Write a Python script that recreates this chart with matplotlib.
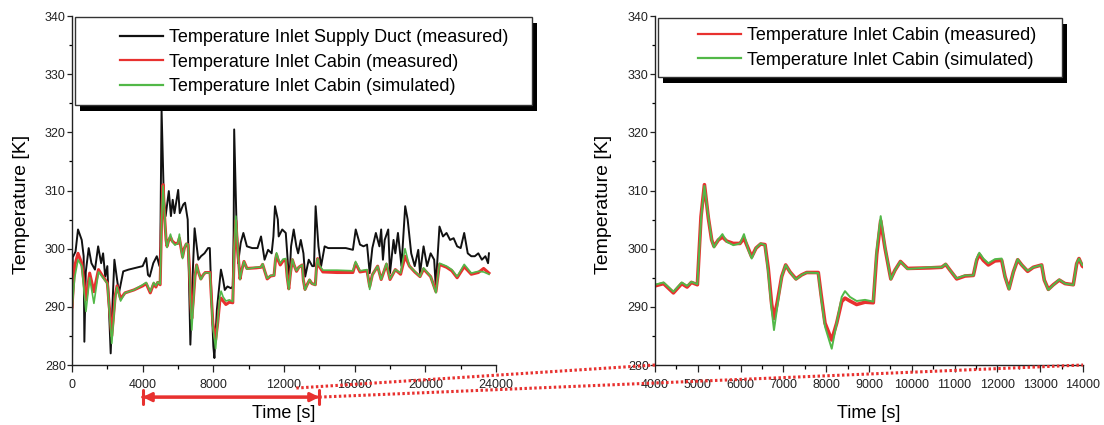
import matplotlib
matplotlib.use("Agg")
import matplotlib.pyplot as plt
from matplotlib.patches import Rectangle, ConnectionPatch
from matplotlib.lines import Line2D
from matplotlib.ticker import MultipleLocator

plt.rcParams['font.family'] = ['Liberation Sans', 'DejaVu Sans']

# ---------------- data ----------------
t_duct = [0, 40, 200, 340, 550, 660, 700, 780, 945, 1100, 1300, 1480, 1650, 1760, 1880, 2000,
          2100, 2190, 2300, 2400, 2550, 2660, 2900, 3200, 3600, 4000, 4200, 4300, 4400, 4600,
          4800, 4950, 5000, 5070, 5200, 5300, 5480, 5600, 5700, 5800, 6010, 6100, 6300, 6400,
          6550, 6650, 6700, 6850, 6940, 7150, 7300, 7500, 7700, 7800, 7900, 8000, 8060, 8200,
          8430, 8550, 8650, 8800, 9000, 9100, 9150, 9180, 9300, 9400, 9550, 9700, 9900, 10200,
          10500, 10700, 10900, 11100, 11300, 11400, 11490, 11650, 11700, 11900, 12100, 12300,
          12400, 12550, 12700, 12800, 12950, 13100, 13200, 13400, 13600, 13700, 13790, 13950,
          14100, 14300, 14500, 15000, 15500, 15900, 16060, 16300, 16500, 16700, 16850, 17000,
          17200, 17400, 17500, 17600, 17700, 17900, 18000, 18200, 18300, 18450, 18650, 18860,
          19000, 19200, 19400, 19600, 19700, 19900, 20100, 20300, 20500, 20590, 20800, 21000,
          21200, 21400, 21600, 21800, 22000, 22200, 22400, 22600, 22800, 23000, 23200, 23400,
          23550, 23600]
T_duct = [280.5, 298.5, 299.5, 303.3, 301.5, 298.7, 284.0, 296.0, 300.1, 297.5, 296.4, 300.4,
          297.5, 299.2, 295.2, 297.0, 289.0, 282.0, 291.0, 298.1, 294.7, 292.4, 296.1, 296.4,
          296.7, 297.0, 298.4, 295.5, 295.2, 297.5, 298.7, 297.0, 300.4, 323.9, 308.4, 305.6,
          309.9, 305.6, 308.4, 306.1, 310.1, 306.1, 307.6, 307.9, 305.0, 291.2, 283.5, 297.0,
          303.5, 298.1, 298.7, 299.2, 300.1, 300.1, 291.2, 283.2, 281.2, 289.5, 296.4, 294.7,
          292.9, 293.5, 293.2, 293.5, 302.7, 320.5, 305.6, 297.5, 301.0, 302.7, 300.4, 300.1,
          300.1, 302.1, 298.1, 299.8, 299.2, 302.1, 307.3, 305.0, 302.1, 303.3, 302.7, 294.1,
          300.4, 303.3, 300.4, 299.2, 301.5, 299.2, 295.2, 298.1, 297.0, 297.0, 307.3, 300.4,
          297.0, 300.4, 300.1, 300.1, 300.1, 299.8, 303.3, 300.7, 300.4, 300.7, 295.8, 300.1,
          302.7, 300.4, 303.3, 298.1, 301.5, 303.3, 295.8, 301.5, 299.2, 302.7, 297.0, 307.3,
          305.0, 299.2, 297.0, 299.8, 295.8, 300.4, 297.0, 299.2, 298.1, 293.5, 303.8, 302.1,
          302.7, 301.5, 301.8, 300.4, 300.1, 302.7, 299.2, 298.7, 298.7, 299.2, 298.1, 298.7,
          297.5, 299.2]

t_cabin = [0, 150, 340, 550, 790, 1000, 1240, 1500, 1750, 2000, 2250, 2450, 2550, 2750, 3000,
           3500, 4000, 4200, 4430, 4625, 4750, 4850, 4990, 5075, 5155, 5246, 5324, 5379, 5480,
           5575, 5675, 5830, 5986, 6079, 6180, 6259, 6360, 6469, 6570, 6647, 6725, 6780, 6857,
           6960, 7053, 7154, 7294, 7428, 7544, 7815, 7879, 7972, 8129, 8245, 8362, 8439, 8555,
           8711, 8907, 9100, 9180, 9273, 9374, 9510, 9607, 9735, 9900, 10425, 10698, 10791,
           10893, 11049, 11243, 11438, 11516, 11577, 11671, 11788, 11944, 12100, 12178, 12271,
           12373, 12474, 12568, 12707, 12839, 13034, 13096, 13190, 13306, 13446, 13579, 13773,
           13852, 13906, 13984, 14200, 15000, 15900, 16050, 16300, 16700, 16850, 17000, 17300,
           17500, 17800, 18000, 18300, 18600, 18850, 19100, 19400, 19700, 19900, 20300, 20600,
           20800, 21200, 21500, 21800, 22200, 22600, 23000, 23300, 23600]
T_cabin_meas = [290.0, 297.0, 299.2, 297.5, 291.2, 295.8, 292.6, 296.4, 295.2, 294.1, 285.0,
                292.0, 293.6, 291.4, 292.4, 292.9, 293.6, 294.0, 292.4, 294.0, 293.4, 294.2,
                293.8, 305.5, 311.0, 305.3, 301.5, 300.4, 301.5, 302.0, 301.3, 300.9, 300.9,
                301.8, 300.0, 298.6, 300.1, 300.8, 300.7, 296.5, 290.5, 288.0, 290.8, 295.2,
                297.2, 296.0, 294.8, 295.5, 295.9, 295.9, 292.2, 287.2, 284.3, 287.2, 290.9,
                291.5, 291.0, 290.4, 290.8, 290.7, 299.0, 304.8, 300.1, 294.8, 296.3, 297.8,
                296.6, 296.7, 296.8, 297.3, 296.3, 294.8, 295.3, 295.4, 298.0, 299.0, 298.0,
                297.2, 297.9, 298.0, 295.2, 293.1, 296.0, 298.1, 297.2, 296.1, 296.8, 297.2,
                294.6, 293.0, 293.8, 294.6, 294.0, 293.8, 297.4, 298.3, 297.0,
                296.0, 295.9, 295.9, 297.5, 296.0, 296.2, 293.5, 295.5, 297.0, 294.7, 297.3,
                294.7, 296.4, 295.6, 298.7, 297.0, 296.0, 295.2, 296.5, 295.2, 292.6, 297.3,
                296.8, 296.2, 295.0, 296.9, 295.6, 295.9, 296.6, 295.8]
T_cabin_sim = [289.5, 295.0, 298.1, 297.0, 289.2, 295.0, 290.6, 296.0, 295.0, 294.0, 283.7,
               291.5, 293.4, 291.0, 292.4, 292.9, 293.8, 294.2, 292.6, 294.2, 293.6, 294.3,
               293.9, 305.0, 310.8, 305.5, 301.5, 300.2, 301.6, 302.5, 301.2, 300.6, 300.9,
               302.5, 299.8, 298.3, 300.1, 300.9, 300.6, 295.8, 289.5, 286.0, 290.0, 295.2,
               297.2, 296.0, 294.7, 295.5, 295.9, 295.8, 291.7, 286.6, 282.8, 287.2, 291.7,
               292.7, 291.7, 291.0, 291.2, 290.9, 299.8, 305.6, 300.3, 294.7, 296.3, 297.8,
               296.5, 296.8, 296.8, 297.4, 296.3, 294.9, 295.4, 295.4, 298.3, 299.3, 298.3,
               297.5, 298.2, 298.3, 295.2, 293.0, 296.0, 298.2, 297.2, 296.2, 296.8, 297.2,
               294.6, 292.9, 293.75, 294.7, 294.0, 293.75, 297.5, 298.3, 297.2,
               296.3, 296.3, 296.2, 297.8, 296.2, 296.4, 293.0, 295.5, 297.0, 294.7, 297.5,
               294.8, 296.4, 295.8, 300.0, 297.0, 296.1, 295.2, 296.7, 295.2, 292.4, 297.5,
               297.0, 296.4, 295.2, 297.3, 295.8, 296.1, 296.0, 295.6]

labels_left = ["Temperature Inlet Supply Duct (measured)",
               "Temperature Inlet Cabin (measured)",
               "Temperature Inlet Cabin (simulated)"]
labels_right = labels_left[1:]
zoom_range = [4000, 14000]

# ---------------- style ----------------
C_BLACK = "#111111"
C_RED = "#e8312f"
C_GREEN = "#52b848"
W, H = 1104, 425

fig = plt.figure(figsize=(W / 100, H / 100), dpi=100)
axL = fig.add_axes([72 / W, 60 / H, 424 / W, 349 / H])
axR = fig.add_axes([655 / W, 60 / H, 428 / W, 349 / H])

axL.plot(t_duct, T_duct, color=C_BLACK, lw=1.4)
axL.plot(t_cabin, T_cabin_meas, color=C_RED, lw=2.2)
axL.plot(t_cabin, T_cabin_sim, color=C_GREEN, lw=1.2)
axR.plot(t_cabin, T_cabin_meas, color=C_RED, lw=2.6)
axR.plot(t_cabin, T_cabin_sim, color=C_GREEN, lw=1.4)

axL.set_xlim(0, 24000)
axR.set_xlim(*zoom_range)
for ax in (axL, axR):
    ax.set_ylim(280, 340)
    ax.yaxis.set_major_locator(MultipleLocator(10))
    ax.yaxis.set_minor_locator(MultipleLocator(5))
    for s in ("top", "right"):
        ax.spines[s].set_visible(False)
    for s in ("left", "bottom"):
        ax.spines[s].set_linewidth(1.0)
        ax.spines[s].set_color("#222222")
    ax.tick_params(axis="x", which="major", direction="out", length=5, width=0.9,
                   labelsize=9, pad=5, colors="#222222")
    ax.tick_params(axis="x", which="minor", direction="out", length=3, width=0.9)
    ax.tick_params(axis="y", which="major", direction="out", length=3.5, width=0.9,
                   labelsize=9, pad=1, colors="#222222")
    ax.tick_params(axis="y", which="minor", direction="out", length=2.5, width=0.9)
    ax.set_ylabel("Temperature [K]", fontsize=14)
    ax.set_xlabel("Time [s]", fontsize=13)
    ax.yaxis.set_label_coords(-0.10, 0.46)
    ax.xaxis.set_label_coords(0.5, -0.115)

axL.xaxis.set_major_locator(MultipleLocator(4000))
axL.xaxis.set_minor_locator(MultipleLocator(2000))
axR.xaxis.set_major_locator(MultipleLocator(1000))
axR.xaxis.set_minor_locator(MultipleLocator(500))


def px(x, y_from_top):
    return (x / W, 1 - y_from_top / H)


def legend_box(x0, y0, x1, y1, off=(5, 6)):
    sh = Rectangle(px(x0 + off[0], y1 + off[1]), (x1 - x0) / W, (y1 - y0) / H,
                   transform=fig.transFigure, fc="black", ec="none", zorder=3)
    bx = Rectangle(px(x0, y1), (x1 - x0) / W, (y1 - y0) / H,
                   transform=fig.transFigure, fc="white", ec="#333333", lw=1.0, zorder=4)
    fig.add_artist(sh)
    fig.add_artist(bx)


legend_box(75, 17, 532, 105)
legend_box(658, 18, 1062, 77)

hL = [Line2D([], [], color=C_BLACK, lw=1.6), Line2D([], [], color=C_RED, lw=1.6),
      Line2D([], [], color=C_GREEN, lw=1.6)]
legL = fig.legend(hL, labels_left, loc="upper left", bbox_to_anchor=px(120, 29),
                  frameon=False, fontsize=13, handlelength=2.38, handletextpad=0.33,
                  labelspacing=0.42, borderpad=0, borderaxespad=0)
legL.set_zorder(6)
legR = fig.legend(hL[1:], labels_right, loc="upper left", bbox_to_anchor=px(698, 27),
                  frameon=False, fontsize=13, handlelength=2.38, handletextpad=0.33,
                  labelspacing=0.42, borderpad=0, borderaxespad=0)
legR.set_zorder(6)

# ---------------- zoom indication ----------------
arrow_y = -0.092
tr = axL.get_xaxis_transform()
for style in ("<|-|>", "|-|,widthA=0.4,widthB=0.4"):
    cp = ConnectionPatch(xyA=(zoom_range[0], arrow_y), coordsA=tr,
                         xyB=(zoom_range[1], arrow_y), coordsB=tr,
                         arrowstyle=style, color=C_RED, lw=2.2, mutation_scale=13,
                         shrinkA=0, shrinkB=0)
    fig.add_artist(cp)

inv = fig.transFigure.inverted()


def dotted(pA, trA, pB, trB):
    a = inv.transform(trA.transform(pA))
    b = inv.transform(trB.transform(pB))
    ln = Line2D([a[0], b[0]], [a[1], b[1]], transform=fig.transFigure, color=C_RED,
                lw=2.2, linestyle=(0, (0.8, 0.8)), solid_capstyle="butt",
                dash_capstyle="butt")
    fig.add_artist(ln)


dotted((12700, -0.066), tr, (zoom_range[0], 280), axR.transData)
dotted((zoom_range[1], arrow_y), tr, (zoom_range[1], 280), axR.transData)

fig.savefig("out.png", dpi=100)
